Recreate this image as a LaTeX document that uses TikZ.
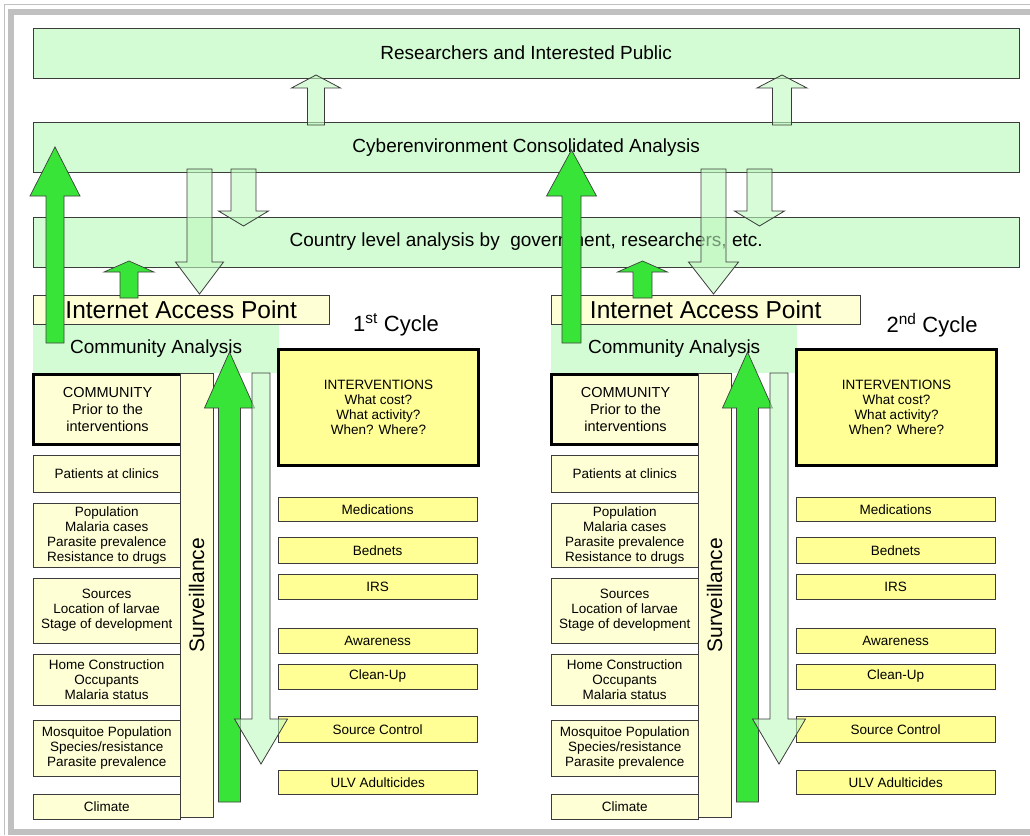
\documentclass[tikz,border=0pt]{standalone}
\usepackage{fontspec}
\setmainfont{Liberation Sans}
\usetikzlibrary{positioning}

\definecolor{palegreen}{RGB}{212,252,212}
\definecolor{paleyellow}{RGB}{255,255,214}
\definecolor{actyellow}{RGB}{255,255,150}
\definecolor{brightgreen}{RGB}{55,228,55}
\definecolor{arrowgreen}{RGB}{190,248,190}
\definecolor{framegray}{RGB}{192,192,192}
\definecolor{edgegray}{RGB}{60,60,60}

% block arrow: [style]{x}{tail y}{head base y}{tip y}{shaft width}{head width}
\newcommand{\blockarrow}[7][]{%
  \draw[#1] ({#2-#6/2},#3) -- ({#2-#6/2},#4) -- ({#2-#7/2},#4) -- (#2,#5)
    -- ({#2+#7/2},#4) -- ({#2+#6/2},#4) -- ({#2+#6/2},#3) -- cycle;}

\begin{document}
\begin{tikzpicture}[
    x=1pt, y=-1pt,
    band/.style={
        draw=edgegray,
        fill=palegreen,
        anchor=north west,
        minimum width=986pt,
        minimum height=50pt,
        font=\fontsize{19}{23}\selectfont
    },
    ybox/.style={
        draw=edgegray,
        fill=paleyellow,
        align=center,
        inner sep=1pt
    },
    sbox/.style={
        ybox,
        minimum width=147pt,
        font=\fontsize{13.5}{15}\selectfont
    },
    abox/.style={
        sbox,
        fill=actyellow,
        minimum width=199pt
    },
    heavy/.style={draw=black, line width=3pt},
    lightarrow/.style={draw=edgegray, fill=arrowgreen, fill opacity=0.6, line width=0.8pt},
    greenarrow/.style={draw=black!75, fill=brightgreen, line width=0.7pt}
]
\useasboundingbox (0,0) rectangle (1030,835);

% frame
\draw[framegray, line width=1.5pt] (1030,4.5) -- (4.5,4.5) -- (4.5,835);
\draw[framegray, line width=6pt] (1030,12) -- (11,12) -- (11,832) -- (1030,832);

% shared rows
\node[band] (public) at (33,28) {Researchers and Interested Public};
\node[band, below=44pt of public] (cyber) {Cyberenvironment Consolidated Analysis};
\node[band, below=44pt of cyber] (country) {Country level analysis by\ \ government, researchers, etc.};

% the two cycles
\foreach \c/\dx/\ord/\iw/\lx in {1/0/st/296/396, 2/518/nd/309/414} {
\begin{scope}[xshift=\dx pt]
  \node[fill=palegreen, minimum width=246pt, minimum height=49pt, anchor=north west,
        font=\fontsize{19}{23}\selectfont] (ca\c) at (33,324) {Community Analysis};
  \node[ybox, minimum width=\iw pt, minimum height=29pt, anchor=north west,
        font=\fontsize{24.5}{28}\selectfont] (inet\c) at (33,295) {Internet Access Point};
  \node[font=\fontsize{22}{26}\selectfont] (cyc\c) at (\lx,325) {\c\textsuperscript{\ord} Cycle};

  \node[ybox, heavy, minimum width=148pt, minimum height=70pt, anchor=north west,
        font=\fontsize{14.5}{17}\selectfont] (comm\c) at (32,373) {COMMUNITY\\Prior to the\\interventions};
  \node[ybox, rotate=90, minimum width=444pt, minimum height=33pt,
        font=\fontsize{21}{24}\selectfont] (surv\c) at (196.5,595) {Surveillance};

  % community column
  \node[sbox, minimum height=37pt, anchor=north west] (clinic\c) at (33,455) {Patients at clinics};
  \node[sbox, minimum height=64pt, below=11pt of clinic\c] (pop\c) {Population\\Malaria cases\\Parasite prevalence\\Resistance to drugs};
  \node[sbox, minimum height=65pt, below=10pt of pop\c] (src\c) {Sources\\Location of larvae\\Stage of development};
  \node[sbox, minimum height=51pt, below=11pt of src\c] (home\c) {Home Construction\\Occupants\\Malaria status};
  \node[sbox, minimum height=56pt, below=14pt of home\c] (mosq\c) {Mosquitoe Population\\Species/resistance\\Parasite prevalence};
  \node[sbox, minimum height=25pt, below=18pt of mosq\c] (climate\c) {Climate};

  % interventions column
  \node[abox, heavy, minimum width=200pt, minimum height=116pt, anchor=north west] (interv\c) at (277,348) {INTERVENTIONS\\What cost?\\What activity?\\When? Where?};
  \node[abox, minimum height=24pt, anchor=north west] (meds\c) at (278,497) {Medications};
  \node[abox, minimum height=26pt, below=16pt of meds\c] (bednet\c) {Bednets};
  \node[abox, minimum height=25pt, below=10pt of bednet\c] (irs\c) {IRS};
  \node[abox, minimum height=25pt, below=29pt of irs\c] (aware\c) {Awareness};
  \node[abox, minimum height=25pt, below=10pt of aware\c] (clean\c) {Clean-Up};
  \node[abox, minimum height=26pt, below=27pt of clean\c] (srcctl\c) {Source Control};
  \node[abox, minimum height=24pt, below=28pt of srcctl\c] (ulv\c) {ULV Adulticides};

  % surveillance up, interventions down
  \blockarrow[greenarrow]{229.5}{802}{408}{352}{22}{50}
  \blockarrow[lightarrow]{261}{373}{719}{764}{18}{53}
\end{scope}
}

% up to the public
\blockarrow[lightarrow]{316}{125}{88}{75}{17}{49}
\blockarrow[lightarrow]{782}{125}{88}{75}{19}{50}

% down to country level and access points
\blockarrow[lightarrow]{199.5}{169}{262}{294}{25}{48}
\blockarrow[lightarrow]{243.5}{169}{211}{226}{25}{50}
\blockarrow[lightarrow]{713.5}{169}{262}{294}{25}{50}
\blockarrow[lightarrow]{759.5}{169}{211}{226}{25}{50}

% up from the communities
\blockarrow[greenarrow]{55}{343}{196}{147}{18}{50}
\blockarrow[greenarrow]{571.5}{343}{196}{150}{19}{50}
\blockarrow[greenarrow]{129}{298}{272}{261}{18}{50}
\blockarrow[greenarrow]{642.5}{298}{272}{261}{19}{50}

\end{tikzpicture}
\end{document}
